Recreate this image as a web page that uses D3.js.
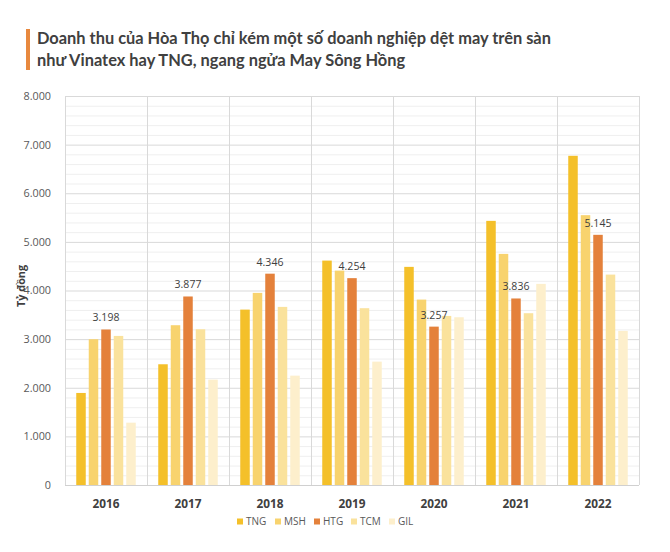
<!DOCTYPE html>
<html><head><meta charset="utf-8">
<script src="https://cdn.jsdelivr.net/npm/d3@7"></script>
<style>body{margin:0;background:#fff;}svg{display:block;}</style>
</head><body>
<svg id="c" width="670" height="552"></svg>
<script>
const years = ["2016","2017","2018","2019","2020","2021","2022"];
const seriesNames = ["TNG","MSH","HTG","TCM","GIL"];
const TNG = [1893, 2483, 3607, 4615, 4486, 5432, 6770];
const MSH = [2998, 3286, 3951, 4409, 3813, 4753, 5549];
const HTG = [3198, 3877, 4346, 4254, 3257, 3836, 5145];
const TCM = [3066, 3203, 3663, 3636, 3477, 3533, 4327];
const GIL = [1282, 2167, 2249, 2537, 3450, 4136, 3169];
const colors = ["#F4C02A", "#F8D36E", "#E4813B", "#FAE29C", "#FDEFCC"];
const yTicks = [0,1000,2000,3000,4000,5000,6000,7000,8000];
const labelSeries = "HTG";
const title = ["Doanh thu của Hòa Thọ chỉ kém một số doanh nghiệp dệt may trên sàn",
               "như Vinatex hay TNG, ngang ngửa May Sông Hồng"];
const yTitle = "Tỷ đồng";

const values = {TNG, MSH, HTG, TCM, GIL};
const svg = d3.select("#c");
const m = {l:65, r:31, t:96, b:67};
const W = 670, H = 552;
const x = d3.scaleBand().domain(years).range([m.l, W-m.r]).paddingInner(0).paddingOuter(0);
const xs = d3.scaleBand().domain(seriesNames).range([0, x.bandwidth()]).paddingInner(0.24).paddingOuter(0.9);
const y = d3.scaleLinear().domain([0,8000]).range([H-m.b, m.t]);
const fmt = v => d3.format(",")(v).replace(/,/g, ".");

// title
svg.append("rect").attr("x",26).attr("y",29).attr("width",4).attr("height",41).attr("fill","#E8893E");
svg.selectAll("text.title").data(title).join("text").attr("class","title")
  .attr("x",37).attr("y",(d,i)=>44+i*22)
  .attr("font-family","Lato, 'Open Sans', sans-serif").attr("font-weight","bold")
  .attr("font-size",16.4).attr("fill","#404040").text(d=>d);

// minor grid
const minor = d3.range(0,8001,200).filter(v=>v%1000!==0);
svg.append("g").selectAll("line").data(minor).join("line")
  .attr("x1",m.l).attr("x2",W-m.r).attr("y1",d=>y(d)+0.5).attr("y2",d=>y(d)+0.5)
  .attr("stroke","#efefef").attr("stroke-width",1);
// major grid
svg.append("g").selectAll("line").data(yTicks.filter(v=>v>0)).join("line")
  .attr("x1",m.l).attr("x2",W-m.r).attr("y1",d=>y(d)+0.5).attr("y2",d=>y(d)+0.5)
  .attr("stroke","#d9d9d9").attr("stroke-width",1);
// vertical category lines
const vx = years.map(d=>x(d)).concat([x(years[years.length-1])+x.bandwidth()]);
svg.append("g").selectAll("line").data(vx).join("line")
  .attr("x1",d=>Math.round(d)+0.5).attr("x2",d=>Math.round(d)+0.5).attr("y1",y(8000)).attr("y2",y(0))
  .attr("stroke","#d9d9d9").attr("stroke-width",1);

// bars
const g = svg.append("g");
years.forEach((yr,i)=>{
  seriesNames.forEach((s,j)=>{
    const v = values[s][i];
    g.append("rect").attr("x",x(yr)+xs(s)).attr("width",xs.bandwidth())
      .attr("y",y(v)).attr("height",y(0)-y(v)).attr("fill",colors[j]);
  });
  const v = values[labelSeries][i];
  g.append("text").attr("x",x(yr)+xs(labelSeries)+xs.bandwidth()/2).attr("y",y(v)-8)
    .attr("text-anchor","middle").attr("font-family","'Open Sans', sans-serif")
    .attr("font-size",10.5).attr("fill","#404040").text(fmt(v));
});

// baseline
svg.append("line").attr("x1",m.l).attr("x2",W-m.r).attr("y1",y(0)+0.5).attr("y2",y(0)+0.5)
  .attr("stroke","#d0d0d0");

// y axis labels
const ya = svg.append("g").attr("transform",`translate(${m.l-11},0)`)
  .call(d3.axisLeft(y).tickValues(yTicks).tickFormat(fmt).tickSize(0));
ya.select(".domain").remove();
ya.selectAll("text").attr("font-family","'Open Sans', sans-serif").attr("font-size",10.8).attr("fill","#595959");

// x axis labels
const xa = svg.append("g").attr("transform",`translate(0,${y(0)+12})`)
  .call(d3.axisBottom(x).tickSize(0));
xa.select(".domain").remove();
xa.selectAll("text").attr("font-family","'Open Sans', sans-serif").attr("font-weight","bold")
  .attr("font-size",11.8).attr("fill","#404040");

// y title
svg.append("text").attr("transform","translate(25,286) rotate(-90)").attr("text-anchor","middle")
  .attr("font-family","'Open Sans', sans-serif").attr("font-weight","bold").attr("font-size",10.8)
  .attr("fill","#404040").text(yTitle);

// legend
const lg = svg.append("g").attr("transform","translate(237,525)");
const lx = [0,38,77,114,152];
seriesNames.forEach((s,j)=>{
  lg.append("rect").attr("x",lx[j]).attr("y",-6.5).attr("width",6).attr("height",6).attr("fill",colors[j]);
  lg.append("text").attr("x",lx[j]+9).attr("y",0).attr("font-family","'Open Sans', sans-serif")
    .attr("font-size",10).attr("fill","#595959").text(s);
});
</script>
</body></html>
